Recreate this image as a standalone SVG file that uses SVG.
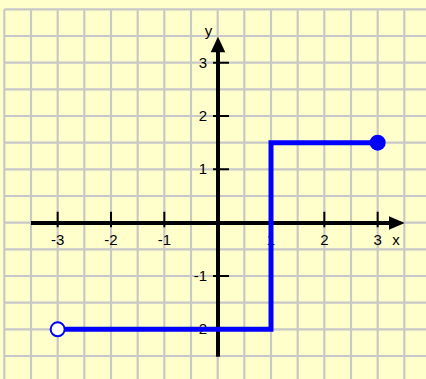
<svg xmlns="http://www.w3.org/2000/svg" width="426" height="379" viewBox="0 0 426 379">
  <style>
    .grid { stroke: #c8c8c8; stroke-width: 2.2; fill: none; }
    .axis { stroke: #000; stroke-width: 4; fill: none; }
    .tick { stroke: #000; stroke-width: 2; fill: none; }
    .lbl { font-family: "Liberation Sans", Arial, sans-serif; font-size: 15px; fill: #000; }
    .graph { stroke: #0000ff; stroke-width: 5; fill: none; stroke-linejoin: miter; stroke-linecap: butt; }
  </style>
  <rect x="0" y="0" width="426" height="379" fill="#ffffcc"/>
  <g id="grid">
    <path class="grid" d="M4.33 9.33V379 M31 9.33V379 M57.67 9.33V379 M84.33 9.33V379 M111 9.33V379 M137.67 9.33V379 M164.33 9.33V379 M191 9.33V379 M217.67 9.33V379 M244.33 9.33V379 M271 9.33V379 M297.67 9.33V379 M324.33 9.33V379 M351 9.33V379 M377.67 9.33V379 M404.33 9.33V379"/>
    <path class="grid" d="M4.33 9.33H426 M4.33 36H426 M4.33 62.67H426 M4.33 89.33H426 M4.33 116H426 M4.33 142.67H426 M4.33 169.33H426 M4.33 196H426 M4.33 222.67H426 M4.33 249.33H426 M4.33 276H426 M4.33 302.67H426 M4.33 329.33H426 M4.33 356H426"/>
  </g>
  <g id="axes">
    <line class="axis" x1="31" y1="223" x2="391" y2="223"/>
    <polygon points="389,216.3 404.7,223 389,229.7" fill="#000"/>
    <line class="axis" x1="218" y1="356.7" x2="218" y2="50"/>
    <polygon points="210.7,52.3 218,36.7 225.3,52.3" fill="#000"/>
    <path class="tick" d="M57.67 211.7V227.3 M111 211.7V227.3 M164.33 211.7V227.3 M271 211.7V227.3 M324.33 211.7V227.3 M377.67 211.7V227.3"/>
    <path class="tick" d="M213 62.67H229 M213 116H229 M213 169.33H229 M213 276H229 M213 329.33H229"/>
  </g>
  <g id="labels" class="lbl">
    <text x="57.67" y="245" text-anchor="middle">-3</text>
    <text x="111" y="245" text-anchor="middle">-2</text>
    <text x="164.33" y="245" text-anchor="middle">-1</text>
    <text x="271" y="245" text-anchor="middle">1</text>
    <text x="324.33" y="245" text-anchor="middle">2</text>
    <text x="377.67" y="245" text-anchor="middle">3</text>
    <text x="396" y="245" text-anchor="middle">x</text>
    <text x="207" y="67.7" text-anchor="end">3</text>
    <text x="207" y="121" text-anchor="end">2</text>
    <text x="207" y="174.3" text-anchor="end">1</text>
    <text x="207" y="281" text-anchor="end">-1</text>
    <text x="207" y="334.3" text-anchor="end">-2</text>
    <text x="208.5" y="36" text-anchor="middle">y</text>
  </g>
  <g id="graph">
    <polyline class="graph" points="57.67,329.33 271,329.33 271,142.67 377.67,142.67"/>
    <circle id="open-point" cx="57.67" cy="329.33" r="7" fill="#fff" stroke="#0000ff" stroke-width="2"/>
    <circle id="closed-point" cx="377.67" cy="142.67" r="8" fill="#0000ff"/>
  </g>
</svg>
